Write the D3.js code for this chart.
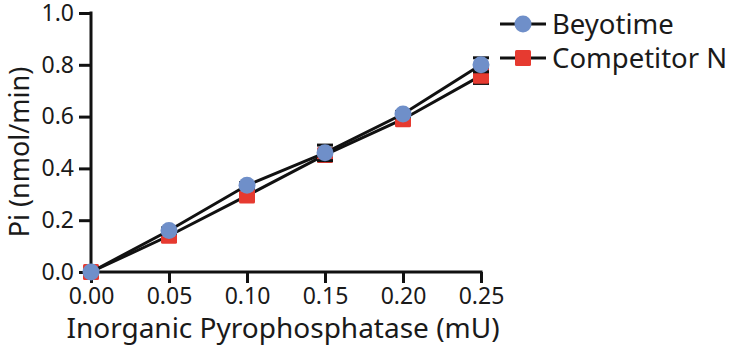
<!DOCTYPE html>
<html>
<head>
<meta charset="utf-8">
<script src="https://cdn.jsdelivr.net/npm/d3@7"></script>
<style>
  body { margin: 0; background: #fff; }
  svg text { font-family: "Noto Sans", sans-serif; fill: #1a1a1a; }
</style>
</head>
<body>
<svg id="chart" width="730" height="354"></svg>
<script>
// values
const concentrations = [0, 0.05, 0.10, 0.15, 0.20, 0.25];
const beyotime = [0, 0.16, 0.335, 0.46, 0.61, 0.80];
const beyotimeErr = [0.004, 0.01, 0.01, 0.03, 0.01, 0.027];
const competitor = [0, 0.14, 0.295, 0.452, 0.59, 0.758];
const competitorErr = [0.004, 0.01, 0.01, 0.01, 0.01, 0.03];
const xTicks = [0, 0.05, 0.10, 0.15, 0.20, 0.25];
const yTicks = [0, 0.2, 0.4, 0.6, 0.8, 1.0];
const seriesNames = ["Beyotime", "Competitor N"];

const blue = "#6f8fc9";
const red = "#e63a30";

let svg = d3.select("#chart");

let x = d3.scaleLinear().domain([0, 0.25]).range([91, 481]);
let y = d3.scaleLinear().domain([0, 1.0]).range([272, 13]);

// axes
let xAxis = d3.axisBottom(x).tickValues(xTicks).tickFormat(d3.format(".2f"))
    .tickSizeInner(11).tickSizeOuter(0).tickPadding(5);
let yAxis = d3.axisLeft(y).tickValues(yTicks).tickFormat(d3.format(".1f"))
    .tickSizeInner(12).tickSizeOuter(0).tickPadding(5);

let gx = svg.append("g").attr("transform", "translate(0,272)").call(xAxis);
let gy = svg.append("g").attr("transform", "translate(91,0)").call(yAxis);

[gx, gy].forEach(g => {
  g.select(".domain").attr("stroke", "#111").attr("stroke-width", 3);
  g.selectAll(".tick line").attr("stroke", "#111").attr("stroke-width", 3);
  g.selectAll(".tick text").style("font-size", "23px").attr("fill", "#1a1a1a");
});
// extend domain lines to cover the thick stroke joint
gx.select(".domain").attr("d", `M${x(0) - 1.5},0H${x(0.25) + 1.5}`);
gy.select(".domain").attr("d", `M0,${y(0) + 1.5}V${y(1.0) - 1.5}`);

// axis titles
svg.append("text")
  .attr("x", 283).attr("y", 338)
  .attr("text-anchor", "middle")
  .style("font-size", "28px")
  .text("Inorganic Pyrophosphatase (mU)");

svg.append("text")
  .attr("transform", "translate(29,152) rotate(-90)")
  .attr("text-anchor", "middle")
  .style("font-size", "27px")
  .text("Pi (nmol/min)");

let line = d3.line().x((d, i) => x(concentrations[i])).y(d => y(d));

function drawSeries(vals, errs, shape, color) {
  let g = svg.append("g");
  g.append("path").datum(vals)
    .attr("d", line).attr("fill", "none")
    .attr("stroke", "#111").attr("stroke-width", 3);
  let eb = g.selectAll(".err").data(vals).enter().append("g");
  eb.append("line")
    .attr("x1", (d, i) => x(concentrations[i])).attr("x2", (d, i) => x(concentrations[i]))
    .attr("y1", (d, i) => y(d + errs[i])).attr("y2", (d, i) => y(d - errs[i]))
    .attr("stroke", "#111").attr("stroke-width", 3);
  eb.selectAll(".cap").data((d, i) => [[i, d + errs[i]], [i, d - errs[i]]]).enter().append("line")
    .attr("x1", c => x(concentrations[c[0]]) - 8).attr("x2", c => x(concentrations[c[0]]) + 8)
    .attr("y1", c => y(c[1])).attr("y2", c => y(c[1]))
    .attr("stroke", "#111").attr("stroke-width", 3);
  if (shape === "circle") {
    g.selectAll("circle").data(vals).enter().append("circle")
      .attr("cx", (d, i) => x(concentrations[i])).attr("cy", d => y(d))
      .attr("r", 8.5).attr("fill", color);
  } else {
    g.selectAll("rect").data(vals).enter().append("rect")
      .attr("x", (d, i) => x(concentrations[i]) - 8).attr("y", d => y(d) - 8)
      .attr("width", 16).attr("height", 16).attr("rx", 1.5).attr("fill", color);
  }
}

drawSeries(competitor, competitorErr, "square", red);
drawSeries(beyotime, beyotimeErr, "circle", blue);

// legend
let legendRows = [{ name: seriesNames[0], shape: "circle", color: blue, cy: 24 },
                  { name: seriesNames[1], shape: "square", color: red, cy: 58 }];
let lg = svg.append("g");
legendRows.forEach(r => {
  lg.append("line").attr("x1", 500).attr("x2", 546).attr("y1", r.cy).attr("y2", r.cy)
    .attr("stroke", "#111").attr("stroke-width", 3);
  if (r.shape === "circle") {
    lg.append("circle").attr("cx", 523).attr("cy", r.cy).attr("r", 8.5).attr("fill", r.color);
  } else {
    lg.append("rect").attr("x", 515).attr("y", r.cy - 8).attr("width", 16).attr("height", 16)
      .attr("rx", 1.5).attr("fill", r.color);
  }
  lg.append("text").attr("x", 552).attr("y", r.cy + 10)
    .style("font-size", "27.5px").text(r.name);
});
</script>
</body>
</html>
